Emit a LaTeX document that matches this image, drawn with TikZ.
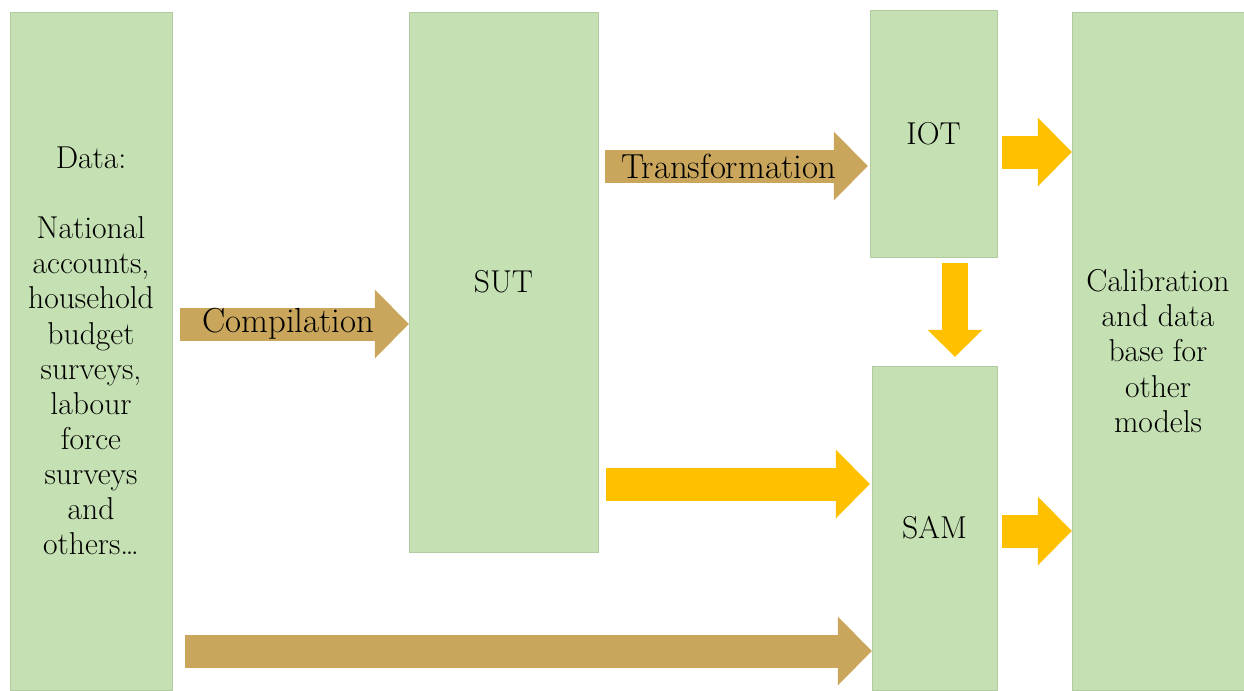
\documentclass[tikz,border=0pt]{standalone}
\usetikzlibrary{arrows.meta}
\definecolor{boxgreen}{RGB}{197,224,178}
\definecolor{arrowtan}{RGB}{201,166,92}
\definecolor{arrowgold}{RGB}{255,192,0}

\begin{document}
\begin{tikzpicture}[x=0.02cm, y=-0.02cm,
    block/.style={fill=boxgreen, draw=boxgreen!90!black, line width=0.3pt, inner sep=0pt,
      align=center, font=\fontsize{18}{20}\selectfont},
    fat/.style={line width=0.66cm, -{Triangle[length=0.68cm, width=1.38cm, line width=0pt]}},
    thin fat/.style={line width=0.52cm, -{Triangle[length=0.54cm, width=1.1cm, line width=0pt]}},
    tanarrow/.style={fat, draw=arrowtan},
    goldarrow/.style={fat, draw=arrowgold},
    lbl/.style={font=\fontsize{19.8}{22}\selectfont, text=black}]
  \useasboundingbox (0,0) rectangle (1244,690);

  % the five tables
  \node[block, minimum width=3.24cm, minimum height=13.56cm] (data) at (91,351)
    {Data:\\[20pt]National\\accounts,\\household\\budget\\surveys,\\labour\\force\\surveys\\and\\others\dots};
  \node[block, minimum width=3.78cm, minimum height=10.8cm] (sut) at (503.5,282) {SUT};
  \node[block, minimum width=2.54cm, minimum height=4.94cm] (iot) at (933.5,133.5) {IOT};
  \node[block, minimum width=2.5cm, minimum height=6.48cm] (sam) at (934.5,528) {SAM};
  \node[block, minimum width=3.44cm, minimum height=13.56cm] (cal) at (1158,351)
    {Calibration\\and data\\base for\\other\\models};

  % flows
  \draw[tanarrow, shorten <=0.16cm] (data.east |- 0,324) -- (sut.west |- 0,324)
    node[lbl, pos=0.49] {Compilation};
  \draw[tanarrow, shorten <=0.14cm, shorten >=0.04cm] (sut.east |- 0,166) -- (iot.west |- 0,166)
    node[lbl, pos=0.48] {Transformation};
  \draw[tanarrow, shorten <=0.26cm] (data.east |- 0,651) -- (sam.west |- 0,651);
  \draw[goldarrow, shorten <=0.16cm, shorten >=0.04cm] (sut.east |- 0,484) -- (sam.west |- 0,484);
  \draw[goldarrow, shorten <=0.1cm] (iot.east |- 0,152) -- (cal.west |- 0,152);
  \draw[goldarrow, shorten <=0.1cm] (sam.east |- 0,531) -- (cal.west |- 0,531);
  \draw[thin fat, draw=arrowgold, shorten <=0.12cm, shorten >=0.18cm] (iot.south -| 955,0) -- (sam.north -| 955,0);
\end{tikzpicture}
\end{document}
